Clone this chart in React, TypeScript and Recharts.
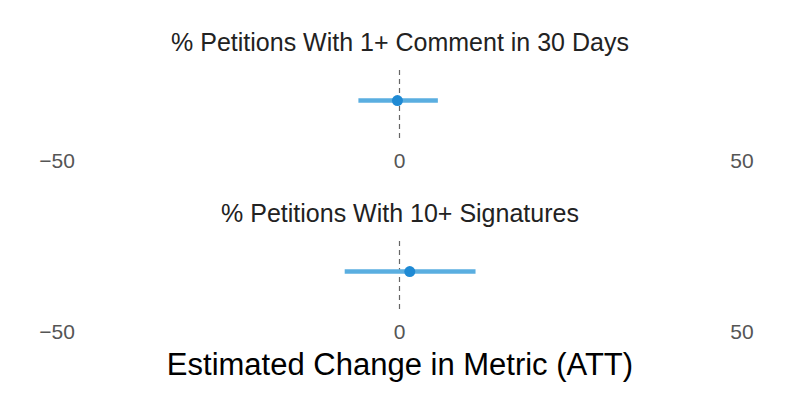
import React from 'react';
import { ScatterChart, Scatter, XAxis, YAxis, ErrorBar, ReferenceLine } from 'recharts';

const panelTitles = ['% Petitions With 1+ Comment in 30 Days', '% Petitions With 10+ Signatures'];
const estimates = [-0.3, 1.5];
const ciLow = [-6.0, -8.0];
const ciHigh = [5.6, 11.1];
const xTicks = [-50, 0, 50];
const axisTitle = 'Estimated Change in Metric (ATT)';

const FONT = '"Liberation Sans", Arial, sans-serif';
const BAR = '#5aaee0';
const DOT = '#1f8ad4';

const fmt = (v: number) => (v < 0 ? '\u2212' + Math.abs(v) : String(v));

function Panel({ i }: { i: number }) {
  const data = [{ x: estimates[i], y: 0.52, err: [estimates[i] - ciLow[i], ciHigh[i] - estimates[i]] }];
  return (
    <div style={{ position: 'absolute', left: 0, top: i * 171, width: 793, height: 171 }}>
      <div
        style={{
          position: 'absolute', left: 0, top: 27, width: 800, textAlign: 'center',
          fontFamily: FONT, fontSize: 25, color: '#222', lineHeight: '30px',
        }}
      >
        {panelTitles[i]}
      </div>
      <ScatterChart width={793} height={171} margin={{ top: 66, right: 51, bottom: 3, left: 57 }}>
        <XAxis
          type="number"
          dataKey="x"
          domain={[-50, 50]}
          ticks={xTicks}
          tickFormatter={fmt}
          axisLine={false}
          tickLine={false}
          tickMargin={9}
          height={30}
          tick={{ fill: '#555', fontSize: 21, fontFamily: FONT }}
          allowDataOverflow
        />
        <YAxis type="number" dataKey="y" domain={[0, 1]} hide width={0} />
        <ReferenceLine x={0} stroke="#666" strokeDasharray="5 4" strokeWidth={1.2} />
        <Scatter data={data} fill={DOT} isAnimationActive={false} shape={(p: any) => <circle cx={p.cx} cy={p.cy} r={5.5} fill={DOT} />}>
          <ErrorBar dataKey="err" direction="x" width={0} strokeWidth={4.5} stroke={BAR} />
        </Scatter>
      </ScatterChart>
    </div>
  );
}

export default function App() {
  return (
    <div style={{ position: 'absolute', left: 0, top: 0, width: 793, height: 397, background: '#fff' }}>
      <Panel i={0} />
      <Panel i={1} />
      <div
        style={{
          position: 'absolute', left: 0, top: 345, width: 800, textAlign: 'center',
          fontFamily: FONT, fontSize: 31, color: '#000', lineHeight: '40px',
        }}
      >
        {axisTitle}
      </div>
    </div>
  );
}
